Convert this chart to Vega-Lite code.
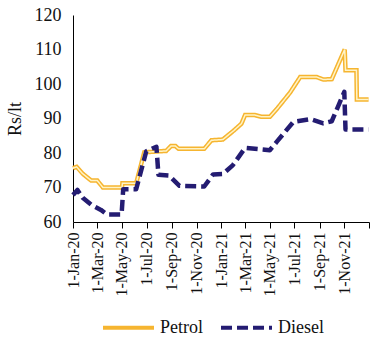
{
  "$schema": "https://vega.github.io/schema/vega-lite/v6.json",
  "width": 296,
  "height": 207,
  "autosize": {"type": "none"},
  "padding": {"left": 73, "top": 15, "right": 18, "bottom": 115},
  "background": "white",
  "config": {
    "view": {"stroke": null},
    "font": "Liberation Serif",
    "axis": {"labelFont": "Liberation Serif", "titleFont": "Liberation Serif", "labelColor": "#111", "titleColor": "#111", "domainColor": "#000", "tickColor": "#000", "grid": false},
    "legend": {"labelFont": "Liberation Serif"}
  },
  "data": {"values": [
    {"date": "2020-01-01", "series": "Petrol", "value": 75.6},
    {"date": "2020-01-10", "series": "Petrol", "value": 76.0},
    {"date": "2020-01-25", "series": "Petrol", "value": 74.0},
    {"date": "2020-02-15", "series": "Petrol", "value": 72.0},
    {"date": "2020-03-01", "series": "Petrol", "value": 72.0},
    {"date": "2020-03-15", "series": "Petrol", "value": 70.0},
    {"date": "2020-05-01", "series": "Petrol", "value": 70.0},
    {"date": "2020-05-02", "series": "Petrol", "value": 71.2},
    {"date": "2020-06-05", "series": "Petrol", "value": 71.2},
    {"date": "2020-06-25", "series": "Petrol", "value": 80.2},
    {"date": "2020-08-18", "series": "Petrol", "value": 80.6},
    {"date": "2020-08-30", "series": "Petrol", "value": 82.0},
    {"date": "2020-09-10", "series": "Petrol", "value": 82.0},
    {"date": "2020-09-18", "series": "Petrol", "value": 81.2},
    {"date": "2020-11-20", "series": "Petrol", "value": 81.2},
    {"date": "2020-12-08", "series": "Petrol", "value": 83.7},
    {"date": "2021-01-05", "series": "Petrol", "value": 83.9},
    {"date": "2021-02-01", "series": "Petrol", "value": 86.5},
    {"date": "2021-02-20", "series": "Petrol", "value": 88.5},
    {"date": "2021-03-01", "series": "Petrol", "value": 91.0},
    {"date": "2021-03-25", "series": "Petrol", "value": 91.0},
    {"date": "2021-04-10", "series": "Petrol", "value": 90.5},
    {"date": "2021-05-01", "series": "Petrol", "value": 90.5},
    {"date": "2021-05-20", "series": "Petrol", "value": 93.0},
    {"date": "2021-06-20", "series": "Petrol", "value": 97.5},
    {"date": "2021-07-15", "series": "Petrol", "value": 102.0},
    {"date": "2021-08-25", "series": "Petrol", "value": 102.0},
    {"date": "2021-09-10", "series": "Petrol", "value": 101.3},
    {"date": "2021-10-01", "series": "Petrol", "value": 101.4},
    {"date": "2021-11-02", "series": "Petrol", "value": 110.0},
    {"date": "2021-11-04", "series": "Petrol", "value": 104.0},
    {"date": "2021-12-01", "series": "Petrol", "value": 104.0},
    {"date": "2021-12-02", "series": "Petrol", "value": 95.5},
    {"date": "2021-12-31", "series": "Petrol", "value": 95.5},
    {"date": "2020-01-01", "series": "Diesel", "value": 67.8},
    {"date": "2020-01-12", "series": "Diesel", "value": 69.3},
    {"date": "2020-01-25", "series": "Diesel", "value": 67.0},
    {"date": "2020-02-15", "series": "Diesel", "value": 65.0},
    {"date": "2020-03-10", "series": "Diesel", "value": 63.5},
    {"date": "2020-03-25", "series": "Diesel", "value": 62.2},
    {"date": "2020-04-30", "series": "Diesel", "value": 62.2},
    {"date": "2020-05-04", "series": "Diesel", "value": 69.5},
    {"date": "2020-06-05", "series": "Diesel", "value": 69.5},
    {"date": "2020-06-30", "series": "Diesel", "value": 80.5},
    {"date": "2020-07-25", "series": "Diesel", "value": 81.8},
    {"date": "2020-07-30", "series": "Diesel", "value": 73.7},
    {"date": "2020-08-25", "series": "Diesel", "value": 73.5},
    {"date": "2020-09-20", "series": "Diesel", "value": 70.5},
    {"date": "2020-11-20", "series": "Diesel", "value": 70.3},
    {"date": "2020-12-12", "series": "Diesel", "value": 73.8},
    {"date": "2021-01-05", "series": "Diesel", "value": 73.9},
    {"date": "2021-01-30", "series": "Diesel", "value": 76.5},
    {"date": "2021-03-01", "series": "Diesel", "value": 81.5},
    {"date": "2021-05-01", "series": "Diesel", "value": 80.8},
    {"date": "2021-05-20", "series": "Diesel", "value": 83.5},
    {"date": "2021-06-28", "series": "Diesel", "value": 89.0},
    {"date": "2021-08-10", "series": "Diesel", "value": 89.8},
    {"date": "2021-09-10", "series": "Diesel", "value": 88.6},
    {"date": "2021-10-01", "series": "Diesel", "value": 89.2},
    {"date": "2021-11-01", "series": "Diesel", "value": 97.7},
    {"date": "2021-11-04", "series": "Diesel", "value": 86.8},
    {"date": "2021-12-31", "series": "Diesel", "value": 86.8}
  ]},
  "encoding": {
    "x": {
      "field": "date", "type": "temporal", "title": null,
      "scale": {"type": "utc", "domain": [{"year": 2020, "month": 1, "date": 1, "utc": true}, {"year": 2022, "month": 1, "date": 1, "utc": true}]},
      "axis": {
        "values": [
          {"year": 2020, "month": 1, "date": 1, "utc": true},
          {"year": 2020, "month": 3, "date": 1, "utc": true},
          {"year": 2020, "month": 5, "date": 1, "utc": true},
          {"year": 2020, "month": 7, "date": 1, "utc": true},
          {"year": 2020, "month": 9, "date": 1, "utc": true},
          {"year": 2020, "month": 11, "date": 1, "utc": true},
          {"year": 2021, "month": 1, "date": 1, "utc": true},
          {"year": 2021, "month": 3, "date": 1, "utc": true},
          {"year": 2021, "month": 5, "date": 1, "utc": true},
          {"year": 2021, "month": 7, "date": 1, "utc": true},
          {"year": 2021, "month": 9, "date": 1, "utc": true},
          {"year": 2021, "month": 11, "date": 1, "utc": true},
          {"year": 2022, "month": 1, "date": 1, "utc": true}
        ],
        "labelExpr": "utcyear(datum.value) >= 2022 ? '' : utcFormat(datum.value, '%-d-%b-%y')",
        "labelAngle": -90, "labelFontSize": 16, "labelPadding": 4, "tickSize": 6, "labelFlush": false, "labelOverlap": false
      }
    },
    "y": {
      "field": "value", "type": "quantitative", "title": "Rs/lt",
      "scale": {"domain": [60, 120], "nice": false, "zero": false},
      "axis": {"values": [60, 70, 80, 90, 100, 110, 120], "ticks": false, "labelPadding": 12, "labelFontSize": 18, "titleFontSize": 18, "titleFontWeight": "normal", "titlePadding": 10}
    },
    "color": {
      "field": "series", "type": "nominal",
      "scale": {"domain": ["Petrol", "Diesel"], "range": ["#F6B530", "#241C72"]},
      "legend": {"orient": "none", "legendX": 28, "legendY": 285, "direction": "horizontal", "title": null, "symbolType": "stroke", "symbolSize": 2600, "symbolStrokeWidth": 4, "labelFontSize": 18, "labelColor": "#111", "columnPadding": 10, "labelOffset": 4}
    },
    "strokeDash": {
      "field": "series", "type": "nominal",
      "scale": {"domain": ["Petrol", "Diesel"], "range": [[1, 0], [11, 5]]},
      "legend": {"orient": "none", "legendX": 28, "legendY": 285, "direction": "horizontal", "title": null, "symbolType": "stroke", "symbolSize": 2600, "symbolStrokeWidth": 4, "labelFontSize": 18, "labelColor": "#111", "columnPadding": 10, "labelOffset": 4}
    }
  },
  "layer": [
    {
      "transform": [{"filter": "datum.series == 'Petrol'"}],
      "mark": {"type": "line", "strokeWidth": 4.5, "strokeJoin": "miter"}
    },
    {
      "transform": [{"filter": "datum.series == 'Petrol'"}],
      "mark": {"type": "line", "strokeWidth": 1.5, "color": "#FFF4C8", "strokeJoin": "miter"},
      "encoding": {"color": {"value": "#FFF4C8"}, "strokeDash": {"value": [1, 0]}}
    },
    {
      "transform": [{"filter": "datum.series == 'Diesel'"}],
      "mark": {"type": "line", "strokeWidth": 4.5, "strokeJoin": "round"}
    }
  ]
}
